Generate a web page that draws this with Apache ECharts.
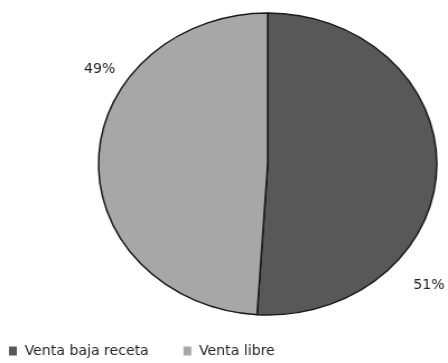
<!DOCTYPE html>
<html>
<head>
<meta charset="utf-8">
<script src="https://cdn.jsdelivr.net/npm/echarts@6/dist/echarts.min.js"></script>
<style>
  html, body { margin: 0; padding: 0; background: #fff; overflow: hidden; }
  #wrap { width: 448px; height: 363px; overflow: hidden; position: relative; }
  /* the pie is drawn slightly wider than tall */
  #chart { width: 400px; height: 363px; transform: scaleX(1.12); transform-origin: 0 0; }
</style>
</head>
<body>
<div id="wrap"><div id="chart"></div></div>
<script>
const categories = ['Venta baja receta', 'Venta libre'];
const shares = [51, 49];
const sliceColors = ['#585858', '#a7a7a7'];

// where each percentage label sits (chart pixels, before horizontal stretch)
const labelSpots = [
  { x: 369, y: 285, align: 'left' },
  { x: 89, y: 69, align: 'center' }
];

const FONT = '"Liberation Sans Narrow", "DejaVu Sans Condensed", "Liberation Sans", sans-serif';

const chart = echarts.init(document.getElementById('chart'), null, { renderer: 'canvas' });
chart.setOption({
  animation: false,
  color: sliceColors,
  legend: {
    left: 8,
    bottom: 5,
    padding: 0,
    itemWidth: 7,
    itemHeight: 9,
    itemGap: 31,
    icon: 'rect',
    itemStyle: { borderWidth: 0 },
    textStyle: { fontFamily: FONT, fontSize: 14, color: '#222', padding: [0, 0, 0, 2] },
    data: categories
  },
  series: [{
    type: 'pie',
    center: [239, 164],
    radius: 151,
    startAngle: 90,
    clockwise: true,
    avoidLabelOverlap: false,
    itemStyle: { borderColor: '#1a1a1a', borderWidth: 1.5 },
    label: {
      show: true,
      position: 'inside',
      formatter: p => p.value + '%',
      fontFamily: FONT,
      fontSize: 14,
      color: '#222'
    },
    labelLine: { show: false },
    labelLayout: p => Object.assign({ verticalAlign: 'middle' }, labelSpots[p.dataIndex]),
    emphasis: { disabled: true },
    data: categories.map((name, i) => ({ name, value: shares[i] }))
  }]
});
</script>
</body>
</html>
